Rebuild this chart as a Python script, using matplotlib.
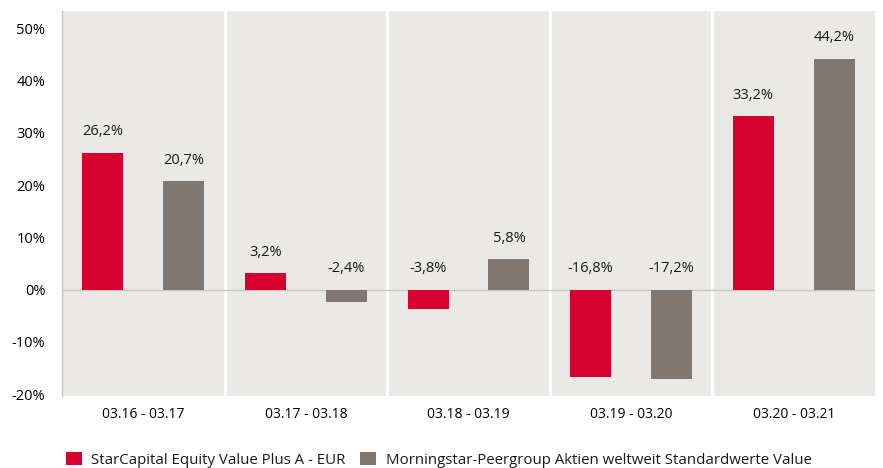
import matplotlib.pyplot as plt
import numpy as np

periods = ['03.16 - 03.17', '03.17 - 03.18', '03.18 - 03.19', '03.19 - 03.20', '03.20 - 03.21']
fund = [26.2, 3.2, -3.8, -16.8, 33.2]
peer = [20.7, -2.4, 5.8, -17.2, 44.2]
series_names = ['StarCapital Equity Value Plus A - EUR',
                'Morningstar-Peergroup Aktien weltweit Standardwerte Value']
yticks = [-20, -10, 0, 10, 20, 30, 40, 50]

red = '#d7002f'
grey = '#7f7770'
panel = '#ebe9e5'

plt.rcParams['font.family'] = ['Open Sans', 'DejaVu Sans']
plt.rcParams['text.color'] = '#1a1a1a'

fig = plt.figure(figsize=(8.83, 4.68), dpi=100)
ax = fig.add_axes([62 / 883, 1 - 395.7 / 468, 813 / 883, 384.7 / 468])
ax.set_facecolor(panel)

x = np.arange(len(periods))
w = 0.252
off = 0.249
ax.bar(x - off, fund, w, color=red, label=series_names[0], zorder=3)
ax.bar(x + off, peer, w, color=grey, label=series_names[1], zorder=3)

# white separators between the period panels
for b in x[:-1] + 0.5:
    ax.axvline(b, color='white', lw=2.4, zorder=2)
ax.axhline(0, color='#c9c6c2', lw=1, zorder=2)

def fmt(v):
    return '{:.1f}%'.format(v).replace('.', ',')

for xs, vals in ((x - off, fund), (x + off, peer)):
    for xi, v in zip(xs, vals):
        ax.annotate(fmt(v), (xi, max(v, 0)), xytext=(0, 15), textcoords='offset points',
                    ha='center', va='center', fontsize=10.5)

ax.set_xlim(-0.5, 4.5)
ax.set_ylim(-20.3, 53.3)
ax.set_yticks(yticks)
ax.set_yticklabels(['{}%'.format(t) for t in yticks])
ax.set_xticks(x)
ax.set_xticklabels(periods)
ax.tick_params(axis='y', length=0, pad=12, labelsize=10.5)
ax.tick_params(axis='x', length=0, pad=8, labelsize=10)
for s in ['top', 'right', 'bottom']:
    ax.spines[s].set_visible(False)
ax.spines['left'].set_color('#c9c6c2')
ax.spines['left'].set_linewidth(1)

fig.legend(loc='lower left', bbox_to_anchor=(52 / 883, -0.029), ncol=2, frameon=False,
           fontsize=10.8, handlelength=1.1, handleheight=0.95, handletextpad=0.62,
           columnspacing=0.95)

fig.savefig('out.png', dpi=100, facecolor='white')
